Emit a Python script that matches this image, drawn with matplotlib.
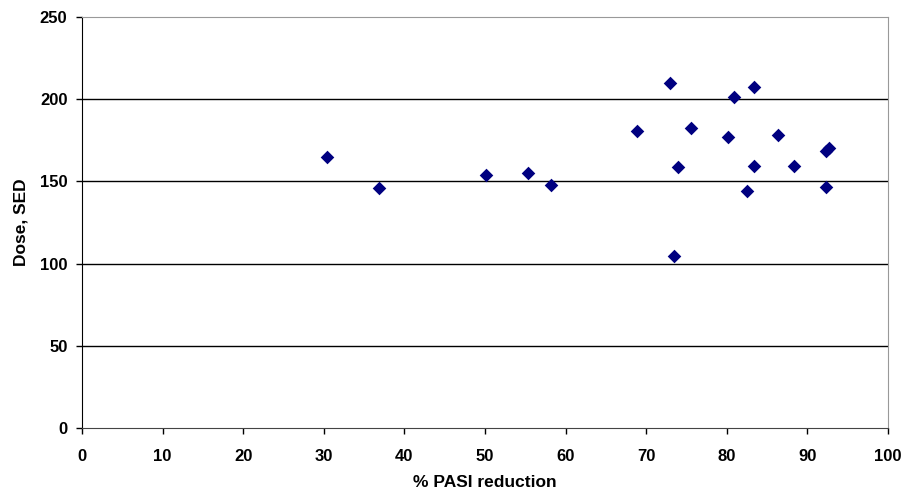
import matplotlib
matplotlib.use("Agg")
import matplotlib.pyplot as plt

# % PASI reduction vs dose (SED)
pasi_reduction = [30.4, 36.8, 50.1, 55.3, 58.2, 68.9, 72.9, 73.4, 74.0, 75.5,
                  80.2, 80.9, 82.5, 83.4, 83.4, 86.4, 88.4, 92.3, 92.3, 92.7]
dose_sed = [165.0, 145.8, 154.1, 154.9, 148.0, 180.8, 210.0, 104.4, 158.6, 182.3,
            177.2, 201.5, 144.3, 207.6, 159.4, 178.0, 159.4, 168.7, 146.6, 170.3]

x_ticks = list(range(0, 101, 10))
y_ticks = list(range(0, 251, 50))

plt.rcParams['font.family'] = ['Liberation Sans', 'DejaVu Sans']

fig = plt.figure(figsize=(9.05, 4.94), dpi=100)
ax = fig.add_axes([0.0906, 0.1336, 0.8906, 0.832])

for y in y_ticks[1:-1]:
    ax.axhline(y, color='black', linewidth=1.0, zorder=1)

ax.scatter(pasi_reduction, dose_sed, marker='D', s=48, color='#000080',
           linewidths=0, zorder=3)

ax.set_xlim(0, 100)
ax.set_ylim(0, 250)
ax.set_xticks(x_ticks)
ax.set_yticks(y_ticks)
ax.tick_params(direction='out', length=4, width=1, labelsize=12)
ax.tick_params(axis='x', pad=11)
ax.tick_params(axis='y', pad=6.5)
for lbl in ax.get_xticklabels() + ax.get_yticklabels():
    lbl.set_fontweight('bold')

ax.spines['left'].set_color('black')
ax.spines['bottom'].set_color('#444444')
ax.spines['top'].set_color('#999999')
ax.spines['right'].set_color('#999999')

ax.set_xlabel('% PASI reduction', fontsize=12.5, fontweight='bold')
ax.set_ylabel('Dose, SED', fontsize=12.5, fontweight='bold')
ax.xaxis.set_label_coords(0.5, -0.114)
ax.yaxis.set_label_coords(-0.066, 0.5)

fig.savefig('out.png', dpi=100)
